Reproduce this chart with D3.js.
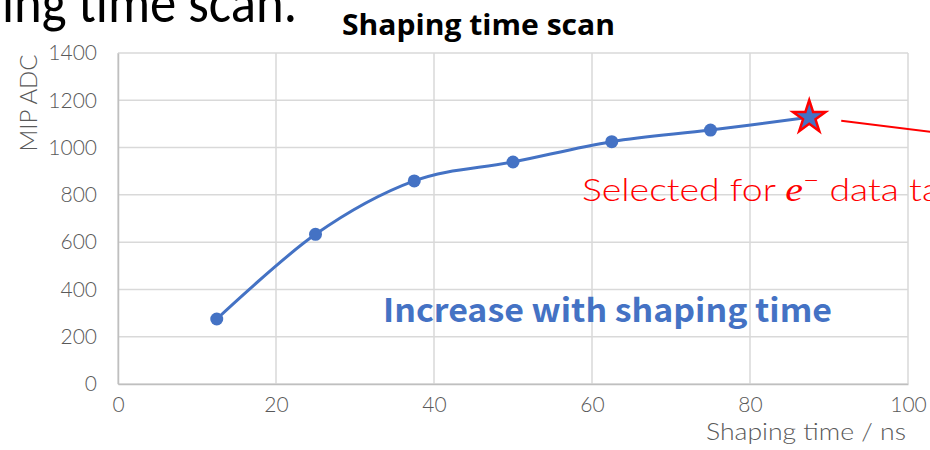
<!DOCTYPE html>
<html>
<head>
<meta charset="utf-8">
<script src="https://cdn.jsdelivr.net/npm/d3@7"></script>
<style>
  html, body { margin: 0; padding: 0; background: #fff; }
  svg { display: block; }
</style>
</head>
<body>
<svg id="chart" width="930" height="450"></svg>
<script>
// Shaping time (ns) and measured MIP ADC peak
const shapingTimes = [12.5, 25, 37.5, 50, 62.5, 75, 87.5];
const mipAdc = [275, 633, 859, 939, 1025, 1074, 1128];
const xTicks = [0, 20, 40, 60, 80, 100];
const yTicks = [0, 200, 400, 600, 800, 1000, 1200, 1400];
const selectedIndex = 6;

const svg = d3.select("#chart");
const margin = { left: 118, right: 22, top: 53, bottom: 66 };
const W = 930, H = 450;

const x = d3.scaleLinear().domain([0, 100]).range([margin.left, W - margin.right]);
const y = d3.scaleLinear().domain([0, 1400]).range([H - margin.bottom, margin.top]);

const lightFont = "Lato, 'Noto Sans', sans-serif";
const gray = "#595959";
const blue = "#4472C4";

// Slide heading fragment above the chart
svg.append("text")
  .attr("x", 2).attr("y", 22)
  .attr("font-family", "Carlito, 'Open Sans', 'Noto Sans', sans-serif")
  .attr("font-size", 57)
  .attr("fill", "#000")
  .attr("textLength", 295)
  .attr("lengthAdjust", "spacingAndGlyphs")
  .text("ing time scan.");

// Gridlines
svg.append("g")
  .selectAll("line").data(yTicks).join("line")
  .attr("x1", x(0)).attr("x2", x(100))
  .attr("y1", d => y(d)).attr("y2", d => y(d))
  .attr("stroke", "#d9d9d9").attr("stroke-width", 1.5);
svg.append("g")
  .selectAll("line").data(xTicks).join("line")
  .attr("x1", d => x(d)).attr("x2", d => x(d))
  .attr("y1", y(0)).attr("y2", y(1400))
  .attr("stroke", "#d9d9d9").attr("stroke-width", 1.5);

// Axes
const fmt = d3.format("d");
const xAxis = svg.append("g")
  .attr("transform", `translate(0,${y(0)})`)
  .call(d3.axisBottom(x).tickValues(xTicks).tickFormat(fmt).tickSize(0).tickPadding(13));
const yAxis = svg.append("g")
  .attr("transform", `translate(${x(0)},0)`)
  .call(d3.axisLeft(y).tickValues(yTicks).tickFormat(fmt).tickSize(0).tickPadding(21));
[xAxis, yAxis].forEach(g => {
  g.select(".domain").attr("stroke", "#bfbfbf").attr("stroke-width", 1.5);
  g.selectAll("text")
    .attr("font-family", lightFont)
    .attr("font-weight", 300)
    .attr("font-size", 21)
    .attr("fill", gray);
});

// Axis titles
svg.append("text")
  .attr("transform", "translate(37,103) rotate(-90)")
  .attr("text-anchor", "middle")
  .attr("font-family", lightFont).attr("font-weight", 300)
  .attr("font-size", 24).attr("fill", gray)
  .text("MIP ADC");
svg.append("text")
  .attr("x", 906).attr("y", 440)
  .attr("text-anchor", "end")
  .attr("font-family", lightFont).attr("font-weight", 300)
  .attr("font-size", 24).attr("fill", gray)
  .attr("textLength", 200)
  .attr("lengthAdjust", "spacingAndGlyphs")
  .text("Shaping time / ns");

// Chart title
svg.append("text")
  .attr("x", 342).attr("y", 35)
  .attr("font-family", "'Open Sans', 'Noto Sans', sans-serif")
  .attr("font-weight", 700)
  .attr("font-size", 28)
  .attr("fill", "#000")
  .attr("textLength", 273)
  .attr("lengthAdjust", "spacingAndGlyphs")
  .text("Shaping time scan");

// Smoothed data line
const pts = shapingTimes.map((t, i) => [t, mipAdc[i]]);
svg.append("path")
  .datum(pts)
  .attr("fill", "none")
  .attr("stroke", blue)
  .attr("stroke-width", 3)
  .attr("d", d3.line().x(d => x(d[0])).y(d => y(d[1])).curve(d3.curveCardinal.tension(0)));

// Circle markers (all but the selected point)
svg.append("g")
  .selectAll("circle")
  .data(pts.filter((d, i) => i !== selectedIndex))
  .join("circle")
  .attr("cx", d => x(d[0])).attr("cy", d => y(d[1]))
  .attr("r", 6.5)
  .attr("fill", blue);

// Selected point drawn as a star
const sel = pts[selectedIndex];
const sx = x(sel[0]), sy = y(sel[1]);
svg.append("path")
  .attr("transform", `translate(${sx},${sy})`)
  .attr("d", d3.symbol().type(d3.symbolStar).size(330)())
  .attr("fill", blue)
  .attr("stroke", "#ff0000")
  .attr("stroke-width", 2.5)
  .attr("stroke-linejoin", "miter");

// Pointer line leaving the selected point
svg.append("line")
  .attr("x1", sx + 32).attr("y1", sy + 3.5)
  .attr("x2", sx + 125).attr("y2", sy + 15)
  .attr("stroke", "#ff0000").attr("stroke-width", 2);

// Annotations
const selText = svg.append("text")
  .attr("transform", "translate(582,201) scale(1.17,1)")
  .attr("font-family", lightFont).attr("font-weight", 300)
  .attr("font-size", 32).attr("fill", "#ff0000");
selText.append("tspan").text("Selected for ");
selText.append("tspan").attr("font-family", "'Liberation Serif', 'DejaVu Serif', serif")
  .attr("font-style", "italic").attr("font-weight", 400).attr("font-size", 34).text("e");
selText.append("tspan").attr("dy", -13).attr("font-size", 24).text("\u2212");
selText.append("tspan").attr("dy", 13).text(" data taking");

svg.append("text")
  .attr("x", 383).attr("y", 322)
  .attr("font-family", "'Noto Sans CJK SC', 'Open Sans', sans-serif")
  .attr("font-weight", 700)
  .attr("font-size", 32)
  .attr("fill", blue)
  .attr("textLength", 449)
  .attr("lengthAdjust", "spacingAndGlyphs")
  .text("Increase with shaping time");
</script>
</body>
</html>
